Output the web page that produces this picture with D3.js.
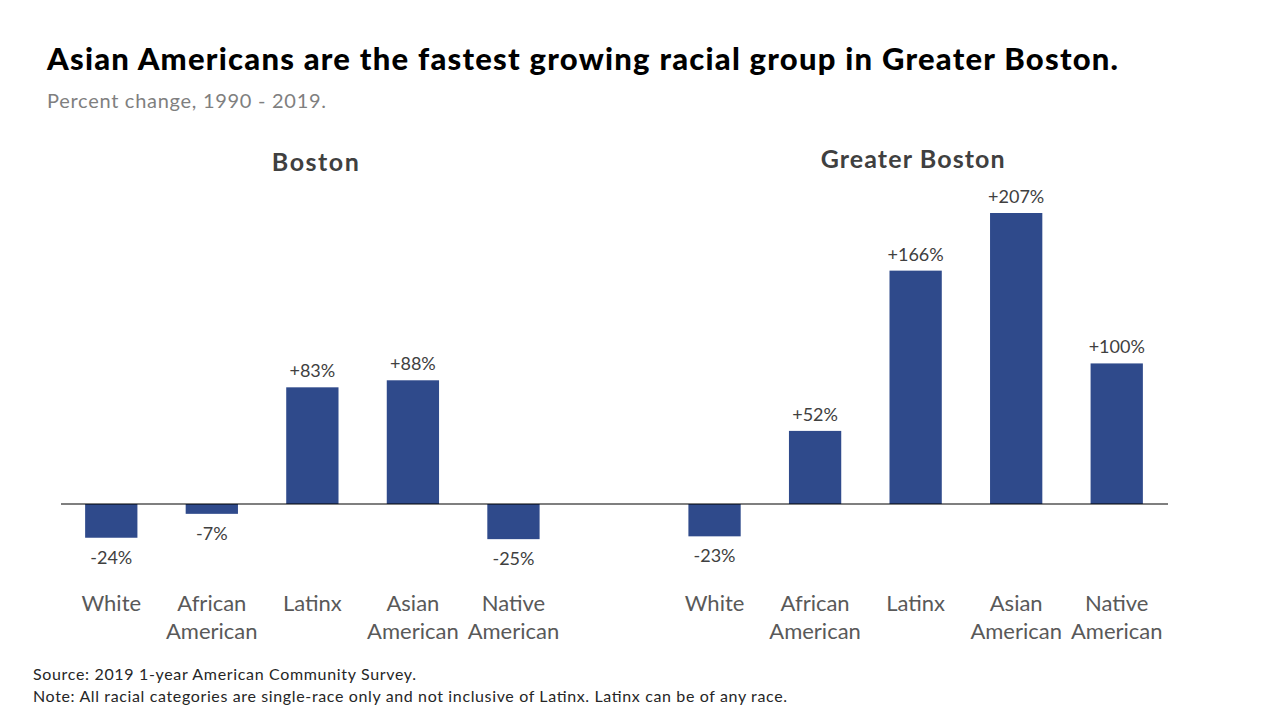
<!DOCTYPE html>
<html><head><meta charset="utf-8">
<script src="https://cdn.jsdelivr.net/npm/d3@7"></script>
<style>body{margin:0;background:#fff}svg{display:block}text{font-family:Lato,"Open Sans",sans-serif}</style>
</head><body>
<svg id="c" width="1280" height="720"></svg>
<script>
const categories = ["White", "African American", "Latinx", "Asian American", "Native American"];
const categoryLines = [["White"], ["African", "American"], ["Latinx"], ["Asian", "American"], ["Native", "American"]];
const groups = ["Boston", "Greater Boston"];
const bostonValues = [-24, -7, 83, 88, -25];
const greaterBostonValues = [-23, 52, 166, 207, 100];
const title = "Asian Americans are the fastest growing racial group in Greater Boston.";
const subtitle = "Percent change, 1990 - 2019.";
const notes = ["Source:  2019 1-year American Community Survey.", "Note: All racial categories are single-race only and not inclusive of Latinx. Latinx can be of any race."];

const svg = d3.select("#c");
const data = [];
const slots = [];
groups.forEach((g, gi) => {
  const vals = gi === 0 ? bostonValues : greaterBostonValues;
  categories.forEach((c, ci) => {
    const key = g + "|" + c;
    slots.push(key);
    data.push({group: g, cat: c, lines: categoryLines[ci], value: vals[ci], key});
  });
  if (gi === 0) slots.push("spacer");
});

const x = d3.scaleBand().domain(slots).range([61, 1167]).padding(0);
const y = d3.scaleLinear().domain([0, 207]).range([504, 213]);
const barW = x.bandwidth() * 0.52;
const color = "#2f4a8b";

svg.append("text").attr("x", 47).attr("y", 70).attr("font-size", 31).attr("font-weight", 900).attr("fill", "#000")
  .attr("textLength", 1071).attr("lengthAdjust", "spacing").text(title);
svg.append("text").attr("x", 47).attr("y", 108).attr("font-size", 20).attr("fill", "#7f7f7f")
  .attr("textLength", 279).attr("lengthAdjust", "spacing").text(subtitle);

groups.forEach((g, gi) => {
  const mid = g + "|" + categories[2];
  svg.append("text").attr("x", x(mid) + x.bandwidth() / 2 + (gi === 0 ? 3 : -3)).attr("y", gi === 0 ? 171 : 168)
    .attr("text-anchor", "middle").attr("font-size", 25).attr("font-weight", 700).attr("fill", "#404040")
    .attr("textLength", gi === 0 ? 87 : 184).attr("lengthAdjust", "spacing").text(g);
});

svg.selectAll("rect.bar").data(data).join("rect").attr("class", "bar")
  .attr("x", d => x(d.key) + (x.bandwidth() - barW) / 2)
  .attr("y", d => y(Math.max(0, d.value)))
  .attr("width", barW)
  .attr("height", d => Math.abs(y(d.value) - y(0)))
  .attr("fill", color);

svg.append("line").attr("x1", 61).attr("x2", 1168).attr("y1", y(0)).attr("y2", y(0)).attr("stroke", "#000").attr("stroke-width", 1.2);

svg.selectAll("text.val").data(data).join("text").attr("class", "val")
  .attr("x", d => x(d.key) + x.bandwidth() / 2)
  .attr("y", d => d.value >= 0 ? y(d.value) - 10 : y(d.value) + 26)
  .attr("text-anchor", "middle").attr("font-size", 18).attr("fill", "#404040")
  .text(d => (d.value > 0 ? "+" : "") + d.value + "%");

const cl = svg.selectAll("text.cat").data(data).join("text").attr("class", "cat")
  .attr("x", d => x(d.key) + x.bandwidth() / 2)
  .attr("y", 611)
  .attr("text-anchor", "middle").attr("font-size", 22).attr("fill", "#595959");
cl.selectAll("tspan").data(d => d.lines.map(l => ({l, x: x(d.key) + x.bandwidth() / 2})))
  .join("tspan").attr("x", t => t.x).attr("dy", (t, i) => i === 0 ? 0 : 28).text(t => t.l);

const noteLens = [383, 754];
notes.forEach((n, i) => {
  svg.append("text").attr("x", 33).attr("y", 680 + i * 22).attr("font-size", 16).attr("fill", "#262626")
    .attr("textLength", noteLens[i]).attr("lengthAdjust", "spacing").text(n);
});
</script>
</body></html>
